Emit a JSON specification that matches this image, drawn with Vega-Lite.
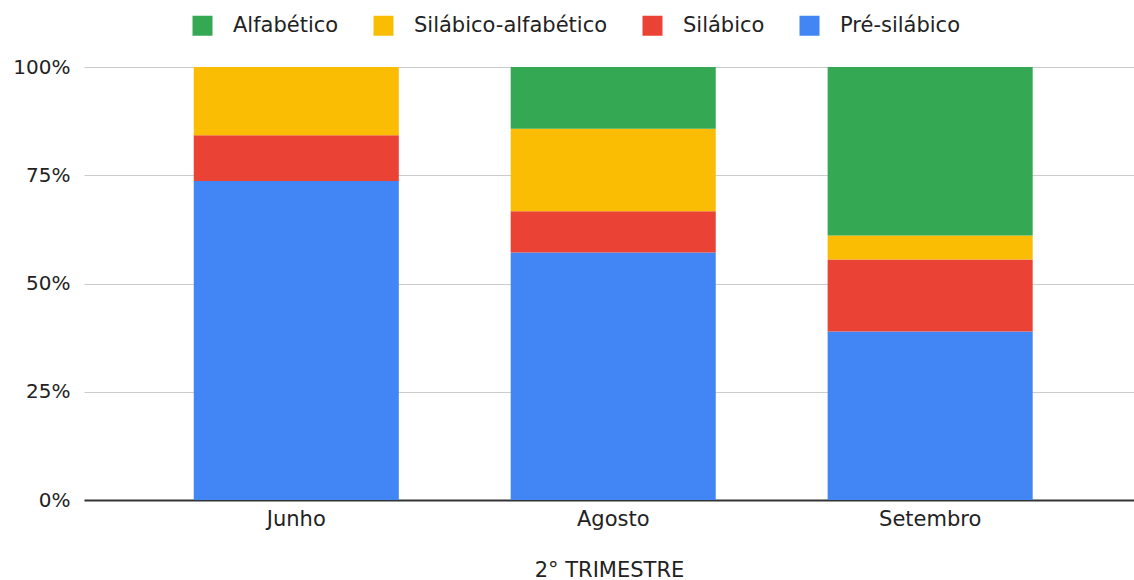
{
  "$schema": "https://vega.github.io/schema/vega-lite/v6.json",
  "autosize": "none",
  "width": 1050,
  "height": 433,
  "padding": {"left": 84, "top": 67, "right": 0, "bottom": 80},
  "background": "#ffffff",
  "config": {
    "view": {"stroke": null},
    "font": "DejaVu Sans",
    "axis": {"labelFont": "DejaVu Sans", "titleFont": "DejaVu Sans", "labelColor": "#222222", "titleColor": "#222222"},
    "legend": {"labelFont": "DejaVu Sans", "labelColor": "#222222"}
  },
  "data": {
    "values": [
      {"mes": "Junho", "nivel": "Pré-silábico", "ordem": 1, "alunos": 14},
      {"mes": "Junho", "nivel": "Silábico", "ordem": 2, "alunos": 2},
      {"mes": "Junho", "nivel": "Silábico-alfabético", "ordem": 3, "alunos": 3},
      {"mes": "Junho", "nivel": "Alfabético", "ordem": 4, "alunos": 0},
      {"mes": "Agosto", "nivel": "Pré-silábico", "ordem": 1, "alunos": 12},
      {"mes": "Agosto", "nivel": "Silábico", "ordem": 2, "alunos": 2},
      {"mes": "Agosto", "nivel": "Silábico-alfabético", "ordem": 3, "alunos": 4},
      {"mes": "Agosto", "nivel": "Alfabético", "ordem": 4, "alunos": 3},
      {"mes": "Setembro", "nivel": "Pré-silábico", "ordem": 1, "alunos": 7},
      {"mes": "Setembro", "nivel": "Silábico", "ordem": 2, "alunos": 3},
      {"mes": "Setembro", "nivel": "Silábico-alfabético", "ordem": 3, "alunos": 1},
      {"mes": "Setembro", "nivel": "Alfabético", "ordem": 4, "alunos": 7}
    ]
  },
  "mark": {"type": "bar"},
  "encoding": {
    "x": {
      "field": "mes",
      "type": "nominal",
      "sort": ["Junho", "Agosto", "Setembro"],
      "scale": {"paddingInner": 0.353, "paddingOuter": 0.333, "align": 0.52},
      "axis": {
        "title": "2° TRIMESTRE",
        "titleFontSize": 21,
        "titleFontWeight": "normal",
        "titlePadding": 30,
        "labelAngle": 0,
        "labelFontSize": 21,
        "labelPadding": 8,
        "ticks": false,
        "domainColor": "#333333",
        "domainWidth": 2
      }
    },
    "y": {
      "field": "alunos",
      "type": "quantitative",
      "stack": "normalize",
      "axis": {
        "title": null,
        "format": ".0%",
        "values": [0, 0.25, 0.5, 0.75, 1],
        "labelFontSize": 20,
        "labelPadding": 14,
        "ticks": false,
        "domain": false,
        "gridColor": "#cccccc",
        "gridWidth": 1
      }
    },
    "color": {
      "field": "nivel",
      "type": "nominal",
      "scale": {
        "domain": ["Alfabético", "Silábico-alfabético", "Silábico", "Pré-silábico"],
        "range": ["#34a853", "#fbbc04", "#ea4335", "#4285f4"]
      },
      "legend": {
        "title": null,
        "orient": "none",
        "direction": "horizontal",
        "legendX": 108,
        "legendY": -52,
        "symbolType": "square",
        "symbolSize": 400,
        "symbolStrokeWidth": 0,
        "symbolOpacity": 1,
        "labelFontSize": 21,
        "labelLimit": 400,
        "labelOffset": 20,
        "columnPadding": 34
      }
    },
    "order": {"field": "ordem", "type": "quantitative", "sort": "ascending"}
  }
}
